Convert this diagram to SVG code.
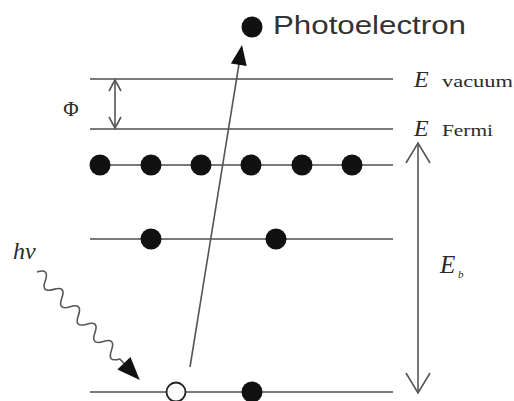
<svg xmlns="http://www.w3.org/2000/svg" width="514" height="401" viewBox="0 0 514 401">
<style>
.lvl{stroke:#7a7a7a;stroke-width:2.2;fill:none}
.arr{stroke:#555;stroke-width:1.6;fill:none}
.dot{fill:#111}
.ser{font-family:"Liberation Serif","DejaVu Serif",serif;fill:#2a2a2a}
</style>
<rect width="514" height="401" fill="#fff"/>
<g id="levels">
<line class="lvl" x1="90" y1="79" x2="393" y2="79"/>
<line class="lvl" x1="90" y1="129" x2="393" y2="129"/>
<line class="lvl" x1="90" y1="165" x2="393" y2="165"/>
<line class="lvl" x1="90" y1="239" x2="393" y2="239"/>
<line class="lvl" x1="90" y1="392" x2="393" y2="392"/>
</g>
<g id="electrons">
<circle class="dot" cx="100" cy="165" r="10.5"/>
<circle class="dot" cx="151" cy="165" r="10.5"/>
<circle class="dot" cx="201" cy="165" r="10.5"/>
<circle class="dot" cx="251" cy="165" r="10.5"/>
<circle class="dot" cx="302" cy="165" r="10.5"/>
<circle class="dot" cx="352" cy="165" r="10.5"/>
<circle class="dot" cx="151" cy="239" r="10.5"/>
<circle class="dot" cx="276" cy="239" r="10.5"/>
<circle class="dot" cx="252" cy="392" r="10.5"/>
<circle cx="176" cy="392" r="9.5" fill="#fff" stroke="#222" stroke-width="1.8"/>
</g>
<g id="photoelectron">
<circle class="dot" cx="252" cy="27" r="10.5"/>
<text x="273" y="34" font-family="'Liberation Sans',Arial,sans-serif" font-size="25" fill="#333" textLength="193" lengthAdjust="spacingAndGlyphs">Photoelectron</text>
</g>
<g id="connectors">
<line class="arr" x1="190" y1="367" x2="239" y2="64"/>
<polygon points="242,45 246.7,66.1 230.9,63.5" fill="#111"/>
<line class="arr" x1="115" y1="80" x2="115" y2="128"/>
<polyline class="arr" points="109,91 115,80 121,91"/>
<polyline class="arr" points="109,117 115,128 121,117"/>
<line class="arr" x1="418" y1="143" x2="418" y2="393"/>
<polyline class="arr" points="406,163 418,143 430,163"/>
<polyline class="arr" points="406,373 418,393 430,373"/>
<g transform="translate(37,272) rotate(46.4)">
<path class="arr" d="M0,0 q6,-12 12,0 q6,12 12,0 q6,-12 12,0 q6,12 12,0 q6,-12 12,0 q6,12 12,0 q6,-12 12,0 q6,12 12,0 q6,-12 12,0 q6,12 12,0 l8,0"/>
<polygon points="149,0 126,-9 126,9" fill="#111"/>
</g>
</g>
<g id="labels">
<text class="ser" x="71" y="116" font-size="21" text-anchor="middle">Φ</text>
<text class="ser" x="13" y="259" font-size="24" font-style="italic">hv</text>
<text class="ser" x="414" y="87" font-size="24" font-style="italic">E</text>
<text class="ser" x="442" y="87" font-size="16" textLength="71" lengthAdjust="spacingAndGlyphs">vacuum</text>
<text class="ser" x="414" y="136" font-size="24" font-style="italic">E</text>
<text class="ser" x="442" y="136" font-size="17" textLength="51" lengthAdjust="spacingAndGlyphs">Fermi</text>
<text class="ser" x="440" y="273" font-size="25" font-style="italic">E</text>
<text class="ser" x="458" y="278" font-size="11" font-style="italic">b</text>
</g>
</svg>
